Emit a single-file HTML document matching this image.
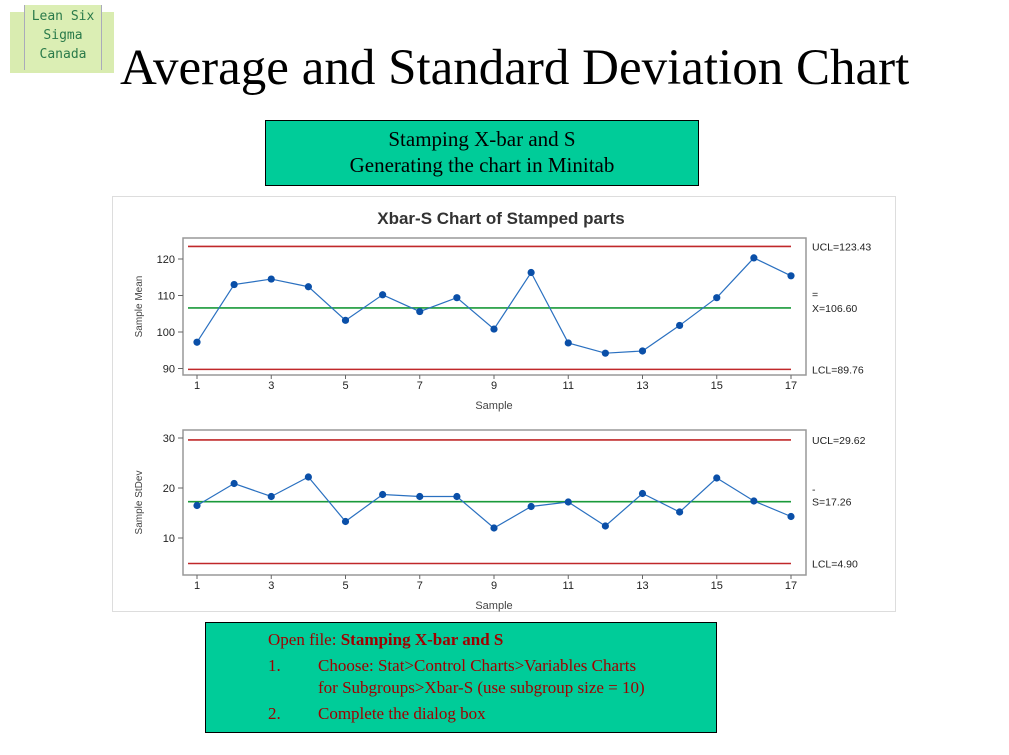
<!DOCTYPE html>
<html><head><meta charset="utf-8"><style>
body{margin:0;width:1009px;height:755px;background:#fff;position:relative;overflow:hidden;font-family:"Liberation Serif",serif}
.abs{position:absolute}
</style></head><body>
<div class="abs" style="left:10px;top:12px;width:104px;height:61px;background:#d9ecb0"></div>
<div class="abs" style="left:24px;top:5px;width:78px;height:65px;background:#dbeeb4;border-left:1px solid #aab;border-right:1px solid #aab;text-align:center;font-family:'DejaVu Sans Mono',monospace;font-size:13px;line-height:19px;color:#2a7a4a;padding-top:2px;box-sizing:border-box">Lean Six<br>Sigma<br>Canada</div>
<div class="abs" style="left:120px;top:38px;font-size:51px;line-height:60px;color:#000;white-space:nowrap">Average and Standard Deviation Chart</div>
<div class="abs" style="left:265px;top:120px;width:434px;height:66px;background:#00cc99;border:1px solid #000;text-align:center;font-size:21px;line-height:26px;padding-top:5px;box-sizing:border-box;color:#000">Stamping X-bar and S<br>Generating the chart in Minitab</div>
<div class="abs" style="left:112px;top:196px;width:784px;height:416px;border:1px solid #ddd;box-sizing:border-box"></div>
<svg class="abs" id="chart" style="left:0;top:0" width="1009" height="755" font-family="Liberation Sans, sans-serif"></svg>
<div class="abs" style="left:205px;top:622px;width:512px;height:111px;background:#00cc99;border:1px solid #000;box-sizing:border-box;color:#a00000;font-size:17px;line-height:22px">
<div style="position:absolute;left:62px;top:6px">Open file: <b>Stamping X-bar and S</b></div>
<div style="position:absolute;left:62px;top:32px">1.</div>
<div style="position:absolute;left:112px;top:32px;white-space:nowrap">Choose: Stat&gt;Control Charts&gt;Variables Charts<br>for Subgroups&gt;Xbar-S (use subgroup size = 10)</div>
<div style="position:absolute;left:62px;top:80px">2.</div>
<div style="position:absolute;left:112px;top:80px">Complete the dialog box</div>
</div>
<script>
const samples=[1,2,3,4,5,6,7,8,9,10,11,12,13,14,15,16,17];
const xbarValues=[97.2,113,114.5,112.4,103.2,110.2,105.6,109.4,100.8,116.3,97,94.2,94.8,101.8,109.4,120.3,115.4];
const sValues=[16.5,20.9,18.3,22.2,13.3,18.7,18.3,18.3,12.0,16.3,17.2,12.4,18.9,15.2,22.0,17.4,14.3];
const xbarLimits=[123.43,106.60,89.76];
const sLimits=[29.62,17.26,4.90];
const xbarTicks=[90,100,110,120];
const sTicks=[10,20,30];
const xTicks=[1,3,5,7,9,11,13,15,17];
const svg=document.getElementById('chart');
const NS='http://www.w3.org/2000/svg';
function mk(tag,attrs,txt){const e=document.createElementNS(NS,tag);for(const k in attrs)e.setAttribute(k,attrs[k]);if(txt!==undefined)e.textContent=txt;svg.appendChild(e);return e;}
const X=v=>197+(v-1)*(791-197)/16;
const t=mk('text',{x:501,y:224,'text-anchor':'middle','font-size':17,'font-weight':'bold',fill:'#333'},'Xbar-S Chart of Stamped parts');


function panel(name,top,bottom,Y,vals,lims,ticks,ytitle,labels){
  const f=mk('rect',{x:183,y:top,width:623,height:bottom-top,fill:'none',stroke:'#999','stroke-width':1.5});
  
  
  const cols=['#c0282a','#1a9a3a','#c0282a'];
  lims.forEach((l,i)=>{
    const ln=mk('line',{x1:188,x2:791,y1:Y(l),y2:Y(l),stroke:cols[i],'stroke-width':1.6});
    
    
    const lb=mk('text',{x:812,y:Y(l)+4,'font-size':10.5,fill:'#222'},labels[i]);
    
    
  });
  ticks.forEach(v=>{
    mk('line',{x1:178,x2:183,y1:Y(v),y2:Y(v),stroke:'#666'});
    const tl=mk('text',{x:175,y:Y(v)+4,'text-anchor':'end','font-size':11,fill:'#222'},v);
    
    
  });
  xTicks.forEach(v=>{
    mk('line',{x1:X(v),x2:X(v),y1:bottom,y2:bottom+4,stroke:'#666'});
    const tl=mk('text',{x:X(v),y:bottom+14,'text-anchor':'middle','font-size':11,fill:'#222'},v);
    
    
  });
  const xt=mk('text',{x:494,y:bottom+34,'text-anchor':'middle','font-size':11,fill:'#444'},'Sample');
  
  
  const cy=(top+bottom)/2;
  const yt=mk('text',{x:142,y:cy,'text-anchor':'middle','font-size':10,fill:'#444',transform:`rotate(-90 142 ${cy})`},ytitle);
  
  
  const pl=mk('polyline',{points:vals.map((v,i)=>X(samples[i])+','+Y(v)).join(' '),fill:'none',stroke:'#2a70c0','stroke-width':1.2});
  
  
  vals.forEach((v,i)=>{
    const c=mk('circle',{cx:X(samples[i]),cy:Y(v),r:3.6,fill:'#0a4fa8'});
    
    
  });
}
panel('xbar',238,375,v=>259+(120-v)*3.65,xbarValues,xbarLimits,xbarTicks,'Sample Mean',['UCL='+xbarLimits[0].toFixed(2),'X=106.60','LCL='+xbarLimits[2].toFixed(2)]);
panel('stdev',430,575,v=>438+(30-v)*5,sValues,sLimits,sTicks,'Sample StDev',['UCL='+sLimits[0].toFixed(2),'S='+sLimits[1].toFixed(2),'LCL='+sLimits[2].toFixed(2)]);
const b1=mk('text',{x:812,y:298,'font-size':10.5,fill:'#222'},'=');


const b2=mk('text',{x:812,y:493,'font-size':10.5,fill:'#222'},'-');


</script>
</body></html>
